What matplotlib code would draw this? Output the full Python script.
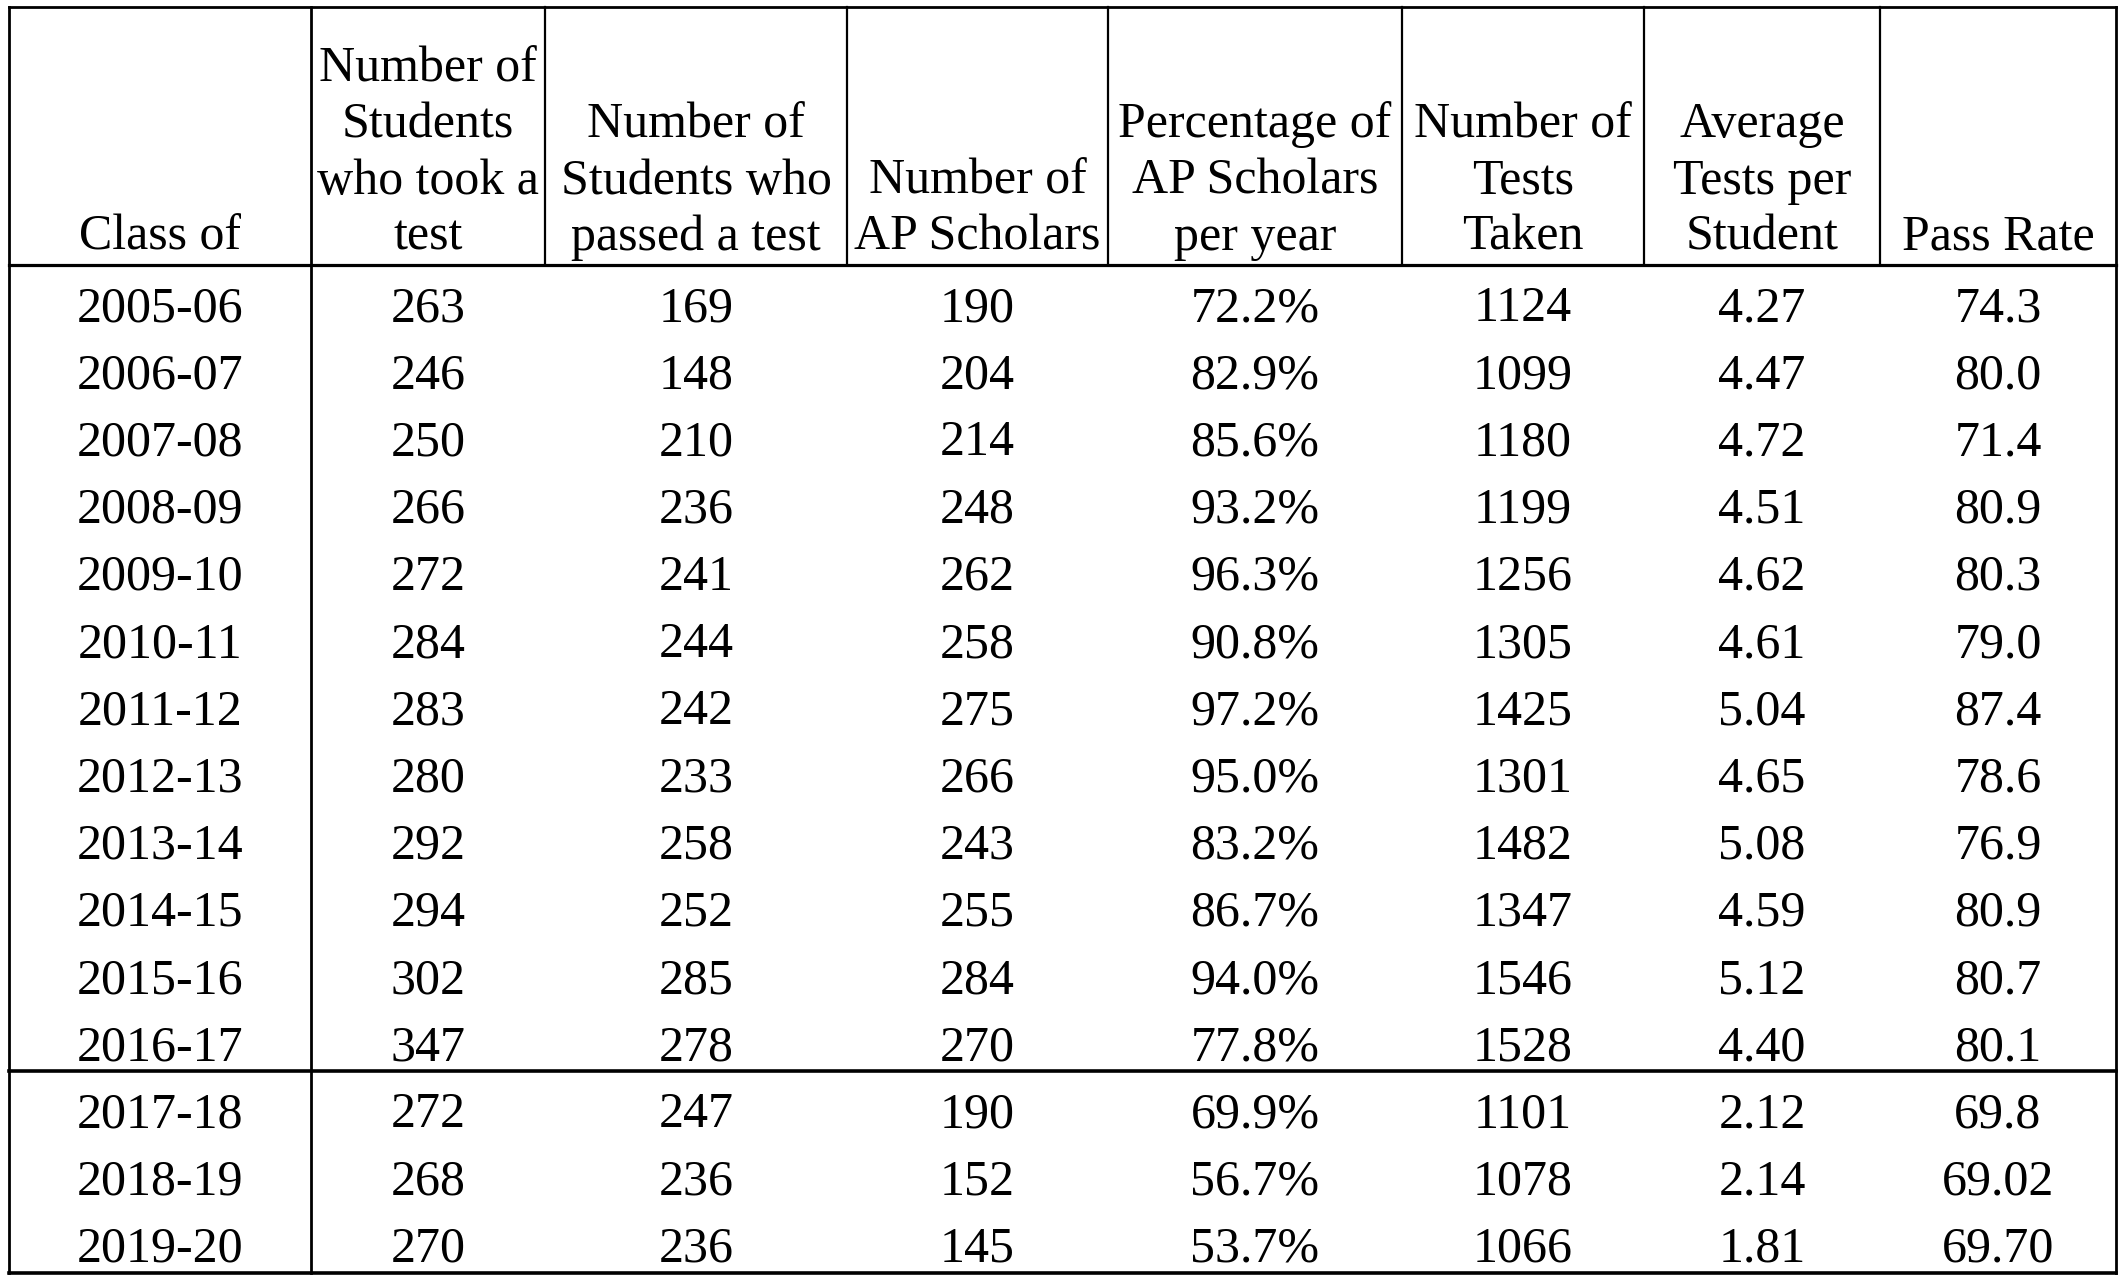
import matplotlib
matplotlib.use("Agg")
import matplotlib.pyplot as plt

# table contents
class_of = ["2005-06", "2006-07", "2007-08", "2008-09", "2009-10", "2010-11",
            "2011-12", "2012-13", "2013-14", "2014-15", "2015-16", "2016-17",
            "2017-18", "2018-19", "2019-20"]
took_test = [263, 246, 250, 266, 272, 284, 283, 280, 292, 294, 302, 347, 272, 268, 270]
passed_test = [169, 148, 210, 236, 241, 244, 242, 233, 258, 252, 285, 278, 247, 236, 236]
ap_scholars = [190, 204, 214, 248, 262, 258, 275, 266, 243, 255, 284, 270, 190, 152, 145]
pct_scholars = ["72.2%", "82.9%", "85.6%", "93.2%", "96.3%", "90.8%", "97.2%", "95.0%",
                "83.2%", "86.7%", "94.0%", "77.8%", "69.9%", "56.7%", "53.7%"]
tests_taken = [1124, 1099, 1180, 1199, 1256, 1305, 1425, 1301, 1482, 1347, 1546, 1528,
               1101, 1078, 1066]
avg_tests = ["4.27", "4.47", "4.72", "4.51", "4.62", "4.61", "5.04", "4.65", "5.08",
             "4.59", "5.12", "4.40", "2.12", "2.14", "1.81"]
pass_rate = ["74.3", "80.0", "71.4", "80.9", "80.3", "79.0", "87.4", "78.6", "76.9",
             "80.9", "80.7", "80.1", "69.8", "69.02", "69.70"]

headers = [
    ["Class of"],
    ["Number of", "Students", "who took a", "test"],
    ["Number of", "Students who", "passed a test"],
    ["Number of", "AP Scholars"],
    ["Percentage of", "AP Scholars", "per year"],
    ["Number of", "Tests", "Taken"],
    ["Average", "Tests per", "Student"],
    ["Pass Rate"],
]

# layout in pixels
W, H = 2122, 1286
col_edges = [9, 311, 545, 847, 1108, 1402, 1644, 1880, 2116]
top, header_bottom, divider, bottom = 7, 265, 1071, 1273
first_baseline, row_step = 321, 67.2
header_base, header_step = 250, 56.3

fig = plt.figure(figsize=(W / 100, H / 100), dpi=100)
ax = fig.add_axes([0, 0, 1, 1])
ax.set_xlim(0, W)
ax.set_ylim(H, 0)
ax.axis("off")

font = dict(family=["Liberation Serif", "DejaVu Serif"], size=36, color="black")
lw = 2.0

centers = [(col_edges[i] + col_edges[i + 1]) / 2 for i in range(len(col_edges) - 1)]

# header text, bottom aligned
for c, lines in zip(centers, headers):
    n = len(lines)
    for k, line in enumerate(lines):
        y = header_base - (n - 1 - k) * header_step
        ax.text(c, y, line, ha="center", va="baseline", **font)

# body
columns = [class_of, took_test, passed_test, ap_scholars, pct_scholars,
           tests_taken, avg_tests, pass_rate]
for i in range(len(class_of)):
    y = first_baseline + i * row_step
    for c, col in zip(centers, columns):
        ax.text(c, y, str(col[i]), ha="center", va="baseline", **font)

# grid lines
x0, x1 = col_edges[0], col_edges[-1]
ax.plot([x0, x1], [top, top], color="black", lw=lw)
ax.plot([x0, x1], [header_bottom, header_bottom], color="black", lw=lw + 0.3)
ax.plot([x0, x1], [divider, divider], color="black", lw=lw + 0.6)
ax.plot([x0, x1], [bottom, bottom], color="black", lw=lw + 0.6)
for x in [col_edges[0], col_edges[1], col_edges[-1]]:
    ax.plot([x, x], [top, bottom], color="black", lw=lw)
for x in col_edges[2:-1]:
    ax.plot([x, x], [top, header_bottom], color="black", lw=lw * 0.8)

fig.savefig("out.png", dpi=100, facecolor="white")
